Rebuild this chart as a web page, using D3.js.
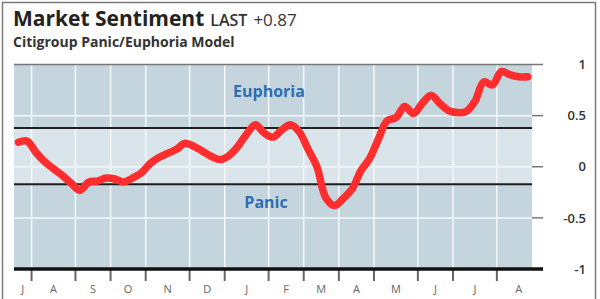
<!DOCTYPE html>
<html lang="en">
<head>
<meta charset="UTF-8">
<title>Market Sentiment</title>
<script src="https://d3js.org/d3.v7.min.js"></script>
<style>
  body { margin: 0; background: #fff; }
  svg { display: block; font-family: 'Open Sans', 'Noto Sans', sans-serif; }
  .title { font-size: 21px; font-weight: 700; fill: #222; }
  .last { font-size: 16px; font-weight: 600; fill: #333; }
  .lastval { font-size: 17px; font-weight: 400; fill: #333; }
  .subtitle { font-size: 14px; font-weight: 700; fill: #333; }
  .zone { font-size: 16px; font-weight: 700; fill: #2e6db4; text-anchor: middle; }
  .ylab { font-size: 13px; font-weight: 600; fill: #333; text-anchor: end; }
  .mlab { font-size: 11px; fill: #666; text-anchor: middle; }
</style>
</head>
<body>
<svg width="600" height="299"></svg>
<script>
// months shown on the x axis and how many weekly readings fall in each
const months = ["J", "A", "S", "O", "N", "D", "J", "F", "M", "A", "M", "J", "J", "A"];
const weeksInMonth = [2, 5, 4, 4, 5, 4, 5, 4, 4, 4, 5, 4, 5, 4];

// weekly panic/euphoria readings
const sentiment = [
  0.24, 0.25, 0.14, 0.05, -0.02, -0.085, -0.16, -0.23, -0.15, -0.14,
  -0.11, -0.12, -0.15, -0.11, -0.06, 0.03, 0.09, 0.13, 0.17, 0.23,
  0.20, 0.15, 0.10, 0.07, 0.11, 0.20, 0.32, 0.41, 0.33, 0.29,
  0.36, 0.41, 0.34, 0.17, 0.0, -0.30, -0.38, -0.31, -0.22, -0.04,
  0.08, 0.27, 0.45, 0.48, 0.59, 0.52, 0.62, 0.70, 0.62, 0.55,
  0.53, 0.54, 0.64, 0.83, 0.80, 0.93, 0.90, 0.88, 0.88
];

const yTicks = [1, 0.5, 0, -0.5, -1];
const yTickLabels = ["1", "0.5", "0", "-0.5", "-1"];
const gridValues = [0.5, 0, -0.5];
const euphoriaLevel = 0.38;
const panicLevel = -0.17;

const svg = d3.select("svg");
const plotL = 14, plotR = 532, plotT = 64.5, plotB = 269;

const totalWeeks = d3.sum(weeksInMonth);
const x = d3.scaleLinear().domain([0, totalWeeks]).range([plotL, plotR]);
const y = d3.scaleLinear().domain([-1, 1]).range([plotB, plotT]);

// outer frame
svg.append("path")
  .attr("d", "M2.5,299 V2.5 H595.5 V299")
  .attr("fill", "none").attr("stroke", "#7a7a7a").attr("stroke-width", 1.5);

// titles
const t = svg.append("text").attr("x", 13).attr("y", 26);
t.append("tspan").attr("class", "title").text("Market Sentiment");
t.append("tspan").attr("class", "last").attr("dx", 6).text("LAST");
t.append("tspan").attr("class", "lastval").attr("dx", 6).text("+0.87");
svg.append("text").attr("class", "subtitle").attr("x", 13).attr("y", 47)
  .text("Citigroup Panic/Euphoria Model");

// background bands
svg.append("rect").attr("x", plotL).attr("y", plotT)
  .attr("width", plotR - plotL).attr("height", plotB - plotT).attr("fill", "#c4d5de");
svg.append("rect").attr("x", plotL).attr("y", y(euphoriaLevel))
  .attr("width", plotR - plotL).attr("height", y(panicLevel) - y(euphoriaLevel))
  .attr("fill", "#d9e5eb");

// month boundaries
const bounds = [0];
weeksInMonth.forEach(w => bounds.push(bounds[bounds.length - 1] + w));

svg.append("g").selectAll("line").data(bounds.slice(1, -1)).join("line")
  .attr("x1", d => x(d)).attr("x2", d => x(d))
  .attr("y1", plotT).attr("y2", plotB)
  .attr("stroke", "#f4f8fa").attr("stroke-width", 1.5);

svg.append("g").selectAll("line").data(gridValues).join("line")
  .attr("x1", plotL).attr("x2", plotR)
  .attr("y1", d => y(d)).attr("y2", d => y(d))
  .attr("stroke", "#f4f8fa").attr("stroke-width", 1.5);

// threshold lines
svg.append("g").selectAll("line").data([euphoriaLevel, panicLevel]).join("line")
  .attr("x1", plotL).attr("x2", plotR)
  .attr("y1", d => y(d)).attr("y2", d => y(d))
  .attr("stroke", "#1e1e1e").attr("stroke-width", 2);

// zone labels
svg.append("text").attr("class", "zone").attr("x", 269).attr("y", 97).text("Euphoria");
svg.append("text").attr("class", "zone").attr("x", 266).attr("y", 208).text("Panic");

// top rule and right ticks
svg.append("line").attr("x1", plotL).attr("x2", 543).attr("y1", plotT).attr("y2", plotT)
  .attr("stroke", "#777").attr("stroke-width", 1.5);
svg.append("g").selectAll("line").data(yTicks.slice(1, -1)).join("line")
  .attr("x1", plotR).attr("x2", 543)
  .attr("y1", d => y(d)).attr("y2", d => y(d))
  .attr("stroke", "#777").attr("stroke-width", 1.5);
svg.append("g").selectAll("text").data(yTicks).join("text")
  .attr("class", "ylab").attr("x", 586).attr("y", d => y(d)).attr("dy", "0.36em")
  .text((d, i) => yTickLabels[i]);

// bottom axis
svg.append("g").selectAll("line").data(bounds.slice(1, -1)).join("line")
  .attr("x1", d => x(d)).attr("x2", d => x(d))
  .attr("y1", plotB).attr("y2", 281)
  .attr("stroke", "#666").attr("stroke-width", 2);
svg.append("line").attr("x1", plotL).attr("x2", 543).attr("y1", plotB).attr("y2", plotB)
  .attr("stroke", "#111").attr("stroke-width", 3.5);

const labelEnds = bounds.slice(1);
labelEnds[labelEnds.length - 1] = bounds[bounds.length - 2] + 5;
svg.append("g").selectAll("text").data(months).join("text")
  .attr("class", "mlab")
  .attr("x", (d, i) => x((bounds[i] + labelEnds[i]) / 2))
  .attr("y", 293)
  .text(d => d);

// sentiment line
const line = d3.line()
  .x((d, i) => x(i + 0.5))
  .y(d => y(d))
  .curve(d3.curveCatmullRom.alpha(0.5));

svg.append("path").datum(sentiment)
  .attr("d", line)
  .attr("fill", "none")
  .attr("stroke", "#ff2d2d")
  .attr("stroke-width", 7.5)
  .attr("stroke-linejoin", "round")
  .attr("stroke-linecap", "round");
</script>
</body>
</html>
